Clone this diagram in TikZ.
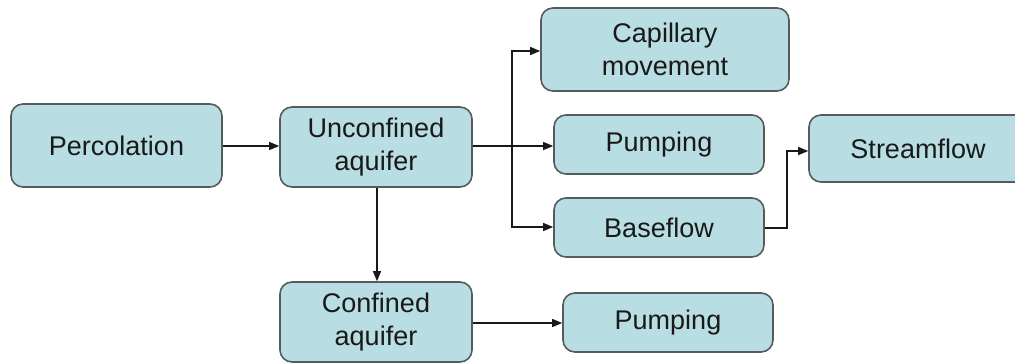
\documentclass[tikz,border=0pt]{standalone}
\usepackage{fontspec}
\setmainfont{Liberation Sans}
\usetikzlibrary{arrows.meta}
\definecolor{boxfill}{RGB}{184,221,226}
\definecolor{boxline}{RGB}{85,92,95}
\definecolor{wire}{RGB}{25,25,25}
\begin{document}
\begin{tikzpicture}[x=1pt,y=-1pt,
  stagebox/.style={draw=boxline, line width=1.6pt, fill=boxfill, rounded corners=12pt,
    align=center, inner sep=0pt, text=black!90,
    font=\fontsize{27}{33}\selectfont},
  flow/.style={draw=wire, line width=1.3pt, -{Triangle[length=10pt,width=8pt]}},
  wireline/.style={draw=wire, line width=1.3pt}]
\useasboundingbox (0,0) rectangle (1015,364);
\clip (0,0) rectangle (1015,364);

% stages
\node[stagebox, minimum width=211pt, minimum height=83pt] (perc) at (116.5,145.5) {Percolation};
\node[stagebox, minimum width=192pt, minimum height=80pt] (unconf) at (376,147) {Unconfined\\aquifer};
\node[stagebox, minimum width=248pt, minimum height=83pt] (cap) at (665,49.5) {Capillary\\movement};
\node[stagebox, minimum width=210pt, minimum height=59pt] (pump) at (659,144.5) {Pumping};
\node[stagebox, minimum width=210pt, minimum height=59pt] (base) at (659,227.5) {Baseflow};
\node[stagebox, minimum width=218pt, minimum height=67pt] (stream) at (918,148.5) {Streamflow};
\node[stagebox, minimum width=192pt, minimum height=80pt] (conf) at (376,322) {Confined\\aquifer};
\node[stagebox, minimum width=210pt, minimum height=59pt] (pumpc) at (668,322.5) {Pumping};

% branch points
\coordinate (split) at (512,146);
\coordinate (join) at (787,228);

% connectors
\draw[flow] (perc.east |- 0,146) -- (unconf.west |- 0,146);
\draw[wireline] (unconf.east |- split) -- (split);
\draw[flow] (split) -- (pump.west |- split);
\draw[flow] (split) |- (cap.west |- 0,51);
\draw[flow] (split) |- (base.west |- 0,227);
\draw[flow] (base.east |- join) -- (join) |- (stream.west |- 0,151);
\draw[flow] (unconf.south -| 377,0) -- (conf.north -| 377,0);
\draw[flow] (conf.east |- 0,323) -- (pumpc.west |- 0,323);
\end{tikzpicture}
\end{document}
